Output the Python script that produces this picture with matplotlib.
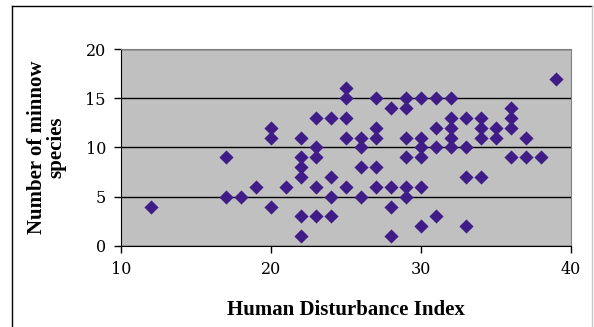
import matplotlib.pyplot as plt
from matplotlib.lines import Line2D

# human disturbance index vs number of minnow species
hdi = [12, 17, 17, 18, 19, 20, 20, 20, 21,
       22, 22, 22, 22, 22, 22,
       23, 23, 23, 23, 23,
       24, 24, 24, 24,
       25, 25, 25, 25, 25,
       26, 26, 26, 26,
       27, 27, 27, 27, 27,
       28, 28, 28, 28,
       29, 29, 29, 29, 29, 29,
       30, 30, 30, 30, 30, 30,
       31, 31, 31, 31,
       32, 32, 32, 32, 32,
       33, 33, 33, 33,
       34, 34, 34, 34,
       35, 35,
       36, 36, 36, 36,
       37, 37, 38, 39]
species = [4, 9, 5, 5, 6, 12, 11, 4, 6,
           11, 9, 8, 7, 3, 1,
           13, 10, 9, 6, 3,
           13, 7, 5, 3,
           16, 15, 13, 11, 6,
           11, 10, 8, 5,
           15, 12, 11, 8, 6,
           14, 6, 4, 1,
           15, 14, 11, 9, 6, 5,
           15, 11, 10, 9, 6, 2,
           15, 12, 10, 3,
           15, 13, 12, 11, 10,
           13, 10, 7, 2,
           13, 12, 11, 7,
           12, 11,
           14, 13, 12, 9,
           11, 9, 9, 17]

xticks = [10, 20, 30, 40]
yticks = [0, 5, 10, 15, 20]

plt.rcParams['font.family'] = ['Liberation Serif', 'DejaVu Serif']

fig = plt.figure(figsize=(5.94, 3.27), dpi=100)
ax = fig.add_axes([0.204, 0.248, 0.757, 0.602])
ax.set_facecolor('#c0c0c0')

ax.scatter(hdi, species, marker='D', s=52, color='#3f1c87', linewidths=0, zorder=3)

ax.set_xlim(10, 40)
ax.set_ylim(0, 20)
ax.set_xticks(xticks)
ax.set_yticks(yticks)
ax.yaxis.grid(True, color='black', linewidth=1)
ax.set_axisbelow(True)
ax.tick_params(direction='out', length=5, width=1, color='black', pad=6)
for lbl in ax.get_xticklabels() + ax.get_yticklabels():
    lbl.set_family('DejaVu Serif')
    lbl.set_fontsize(11.5)

ax.spines['top'].set_color('#808080')
ax.spines['right'].set_color('#808080')
ax.spines['left'].set_color('black')
ax.spines['bottom'].set_color('black')

ax.set_xlabel('Human Disturbance Index', fontsize=15, fontweight='bold', labelpad=16)
ax.set_ylabel('Number of minnow\nspecies', fontsize=15, fontweight='bold',
              labelpad=14, linespacing=0.9)

# chart border
fig.add_artist(Line2D([12/594, 12/594], [0, 1 - 6/327], color='black', lw=1))
fig.add_artist(Line2D([12/594, 592/594], [1 - 6/327, 1 - 6/327], color='black', lw=1))
fig.add_artist(Line2D([592/594, 592/594], [0, 1 - 6/327], color='#c8c8c8', lw=1))

fig.savefig('out.png', dpi=100)
